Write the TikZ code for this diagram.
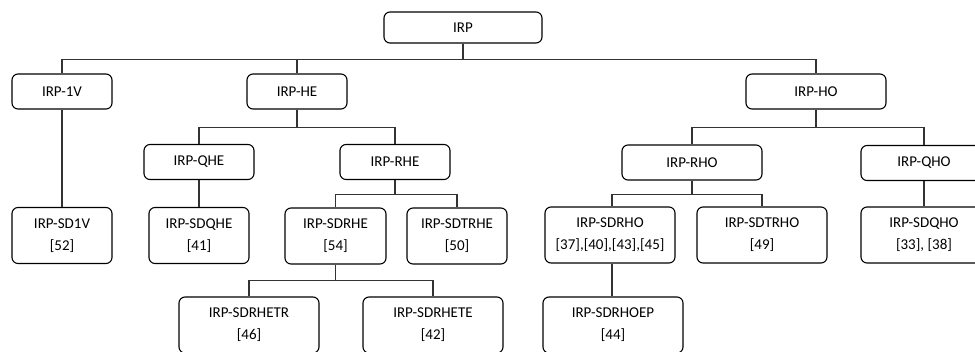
\documentclass[tikz,border=0pt]{standalone}
\usepackage{fontspec}
\setmainfont{Carlito}
\begin{document}
\begin{tikzpicture}[x=1pt,y=-1pt,
  box/.style={draw=black, line width=1.1pt, rounded corners=6pt, align=center,
    inner sep=0pt, font=\fontsize{15}{22}\selectfont},
  link/.style={draw=black!80, line width=1.1pt}]
\useasboundingbox (0,0) rectangle (975,351);
\clip (0,0) rectangle (975,351);

% top levels
\node[box, minimum width=158pt, minimum height=31pt] (irp) at (463,27.5) {IRP};
\node[box, minimum width=100pt, minimum height=35pt] (v1) at (62,91.5) {IRP-1V};
\node[box, minimum width=100pt, minimum height=35pt] (he) at (297,91.5) {IRP-HE};
\node[box, minimum width=140pt, minimum height=35pt] (ho) at (816,91.5) {IRP-HO};

\node[box, minimum width=110pt, minimum height=35pt] (qhe) at (199,162) {IRP-QHE};
\node[box, minimum width=110pt, minimum height=35pt] (rhe) at (395,162) {IRP-RHE};
\node[box, minimum width=140pt, minimum height=35pt] (rho) at (692,162.5) {IRP-RHO};
\node[box, minimum width=126pt, minimum height=35pt] (qho) at (924,163) {IRP-QHO};

% leaves with references
\node[box, minimum width=100pt, minimum height=56pt] (sd1v) at (62,235.5) {IRP-SD1V\\{[52]}};
\node[box, minimum width=100pt, minimum height=56pt] (sdqhe) at (199,235.5) {IRP-SDQHE\\{[41]}};
\node[box, minimum width=101pt, minimum height=56pt] (sdrhe) at (335.5,236) {IRP-SDRHE\\{[54]}};
\node[box, minimum width=100pt, minimum height=56pt] (sdtrhe) at (457,236) {IRP-SDTRHE\\{[50]}};
\node[box, minimum width=130pt, minimum height=56pt] (sdrho) at (610,235) {IRP-SDRHO\\{[37],[40],[43],[45]}};
\node[box, minimum width=130pt, minimum height=56pt] (sdtrho) at (762,235) {IRP-SDTRHO\\{[49]}};
\node[box, minimum width=126pt, minimum height=56pt] (sdqho) at (924,235) {IRP-SDQHO\\{[33], [38]}};

\node[box, minimum width=140pt, minimum height=56pt] (sdrhetr) at (249,325) {IRP-SDRHETR\\{[46]}};
\node[box, minimum width=140pt, minimum height=56pt] (sdrhete) at (433,325) {IRP-SDRHETE\\{[42]}};
\node[box, minimum width=140pt, minimum height=56pt] (sdrhoep) at (613,325) {IRP-SDRHOEP\\{[44]}};

% connectors
\draw[link] (irp.south) -- ++(0,15.5) -| (v1.north);
\draw[link] (irp.south) -- ++(0,15.5) -| (he.north);
\draw[link] (irp.south) -- ++(0,15.5) -| (ho.north);

\draw[link] (he.south) -- ++(0,17.5) -| (qhe.north);
\draw[link] (he.south) -- ++(0,17.5) -| (rhe.north);
\draw[link] (ho.south) -- ++(0,17.5) -| (rho.north);
\draw[link] (ho.south) -- ++(0,17.5) -| (qho.north);

\draw[link] (v1.south) -- (sd1v.north);
\draw[link] (qhe.south) -- (sdqhe.north);
\draw[link] (rhe.south) -- ++(0,14.5) -| (sdrhe.north);
\draw[link] (rhe.south) -- ++(0,14.5) -| (sdtrhe.north);
\draw[link] (rho.south) -- ++(0,14) -| ([xshift=2pt]sdrho.north);
\draw[link] (rho.south) -- ++(0,14) -| (sdtrho.north);
\draw[link] (qho.south) -- (sdqho.north);

\draw[link] (sdrhe.south) -- ++(0,16) -| (sdrhetr.north);
\draw[link] (sdrhe.south) -- ++(0,16) -| (sdrhete.north);
\draw[link] ([xshift=2pt]sdrho.south) -- ([xshift=2pt]sdrho.south |- sdrhoep.north);
\end{tikzpicture}
\end{document}
